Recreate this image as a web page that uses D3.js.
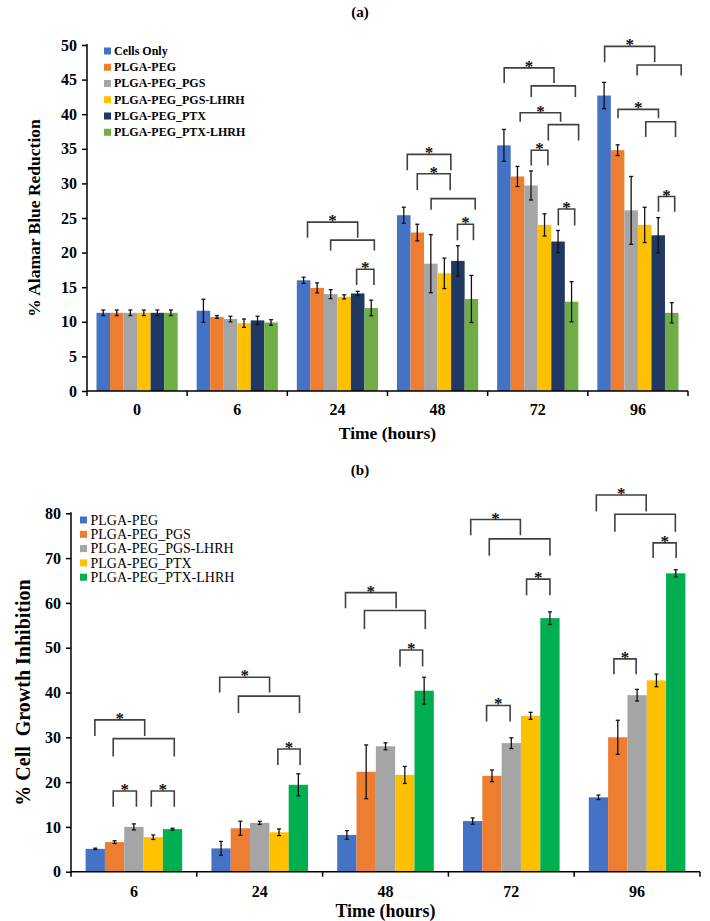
<!DOCTYPE html>
<html><head><meta charset="utf-8">
<script src="https://cdnjs.cloudflare.com/ajax/libs/d3/7.8.5/d3.min.js"></script>
<style>
body{margin:0;background:#fff;}
text{font-family:"Liberation Serif","Times New Roman",serif;}
</style></head>
<body><svg id="c" width="710" height="921"></svg>
<script>
// ---------- Chart (a) data ----------
const timesA = ["0","6","24","48","72","96"];
const seriesA = ["Cells Only","PLGA-PEG","PLGA-PEG_PGS","PLGA-PEG_PGS-LHRH","PLGA-PEG_PTX","PLGA-PEG_PTX-LHRH"];
const colorsA = ["#4472C4","#ED7D31","#A5A5A5","#FFC000","#203864","#70AD47"];
const cellsOnly      = [11.3, 11.6, 16.0, 25.4, 35.5, 42.7];
const plgaPegA       = [11.3, 10.7, 14.9, 22.9, 31.0, 34.8];
const pgsA           = [11.3, 10.4, 14.0, 18.4, 29.7, 26.1];
const pgsLhrhA       = [11.3,  9.8, 13.6, 17.0, 24.0, 24.0];
const ptxA           = [11.3, 10.2, 14.1, 18.8, 21.6, 22.5];
const ptxLhrhA       = [11.3,  9.9, 12.0, 13.3, 12.9, 11.3];
const cellsOnlyErr   = [0.4, 1.66, 0.45, 1.16, 2.3, 1.9];
const plgaPegAErr    = [0.4, 0.2, 0.72, 1.2, 1.45, 0.77];
const pgsAErr        = [0.4, 0.4, 0.65, 4.2, 2.1, 4.9];
const pgsLhrhAErr    = [0.4, 0.6, 0.3, 2.2, 1.6, 2.55];
const ptxAErr        = [0.4, 0.6, 0.3, 2.2, 1.6, 2.55];
const ptxLhrhAErr    = [0.4, 0.4, 1.13, 3.4, 2.9, 1.47];
const yTicksA = [0,5,10,15,20,25,30,35,40,45,50];
// significance brackets: [time index, from bar pos, to bar pos, top value, leg end value, star]
const bracketsA = [
  [2,0.79,4.5,24.4,22.15,1],[2,2.5,5.73,21.8,20.3,0],[2,4.42,5.7,17.6,15.3,1],
  [3,0.76,3.98,34.2,31.9,1],[3,1.5,3.93,31.4,29.0,1],[3,2.52,5.78,27.8,26.2,0],[3,4.47,5.65,24.1,21.8,1],
  [4,0.52,4.2,46.7,44.5,1],[4,2.52,5.78,44.1,42.5,0],[4,1.7,4.69,40.2,38.9,1],[4,3.78,6.02,38.5,36.2,0],[4,2.52,3.75,34.8,32.6,1],[4,4.52,5.73,26.3,23.9,1],
  [5,0.54,4.24,49.8,47.5,1],[5,2.94,6.2,47.1,45.6,0],[5,1.53,4.52,40.7,39.4,1],[5,3.58,5.78,38.9,36.7,0],[5,4.52,5.72,28.1,25.9,1]
];

// ---------- Chart (b) data ----------
const timesB = ["6","24","48","72","96"];
const seriesB = ["PLGA-PEG","PLGA-PEG_PGS","PLGA-PEG_PGS-LHRH","PLGA-PEG_PTX","PLGA-PEG_PTX-LHRH"];
const colorsB = ["#4472C4","#ED7D31","#A5A5A5","#FFC000","#00B050"];
const plgaPegB    = [5.1, 5.2, 8.2, 11.3, 16.6];
const pgsB        = [6.6, 9.7, 22.3, 21.4, 30.0];
const pgsLhrhB    = [10.0, 10.9, 28.0, 28.7, 39.4];
const ptxB        = [7.7, 8.8, 21.6, 34.8, 42.7];
const ptxLhrhB    = [9.5, 19.4, 40.4, 56.6, 66.6];
const plgaPegBErr = [0.15, 1.56, 0.97, 0.7, 0.5];
const pgsBErr     = [0.3, 1.56, 6.0, 1.3, 3.8];
const pgsLhrhBErr = [0.67, 0.35, 0.78, 1.2, 1.3];
const ptxBErr     = [0.5, 0.74, 1.9, 0.78, 1.4];
const ptxLhrhBErr = [0.2, 2.45, 3.0, 1.4, 0.8];
const yTicksB = [0,10,20,30,40,50,60,70,80];
const bracketsB = [
  [0,0.48,3.06,33.9,30.3,1],[0,1.43,4.59,29.7,25.7,0],[0,1.43,2.63,18.0,14.5,1],[0,3.4,4.59,18.0,14.5,1],
  [1,0.43,3.01,43.4,40.0,1],[1,1.4,4.56,39.2,35.4,0],[1,3.44,4.59,27.4,23.8,1],
  [2,0.43,3.05,62.3,58.8,1],[2,1.41,4.56,58.3,54.2,0],[2,3.25,4.42,49.5,45.8,1],
  [3,0.4,2.97,78.6,75.1,1],[3,1.36,4.5,74.3,70.5,0],[3,3.29,4.5,65.3,61.7,1],[3,1.22,2.44,37.1,33.5,1],
  [4,0.39,2.97,84.1,80.4,1],[4,1.35,4.48,79.8,75.9,0],[4,3.33,4.52,73.4,70.0,1],[4,1.3,2.45,47.5,44.1,1]
];

const svg = d3.select("#c");

function drawChart(cfg){
  const g = svg.append("g");
  const x0 = d3.scaleBand().domain(cfg.times).range([cfg.left, cfg.right]).padding(0);
  const inner = d3.scaleBand().domain(cfg.series).range([cfg.pad, x0.bandwidth()-cfg.pad]).padding(0);
  const pos = d3.scaleLinear().domain([0, cfg.series.length]).range(inner.range());
  const y = d3.scaleLinear().domain(cfg.yDomain).range([cfg.bottom, cfg.top]);
  const color = d3.scaleOrdinal().domain(cfg.series).range(cfg.colors);

  const rows = [];
  cfg.series.forEach((s,si)=>cfg.times.forEach((t,ti)=>rows.push({s,t,v:cfg.values[si][ti],e:cfg.errors[si][ti]})));

  g.selectAll("rect.bar").data(rows).join("rect").attr("class","bar")
    .attr("x",d=>x0(d.t)+inner(d.s)).attr("width",inner.bandwidth())
    .attr("y",d=>y(d.v)).attr("height",d=>y(0)-y(d.v)).attr("fill",d=>color(d.s));

  // error bars
  const eb = g.selectAll("g.err").data(rows).join("g").attr("class","err")
    .attr("stroke","#111").attr("stroke-width",1.3);
  const cx = d=>x0(d.t)+inner(d.s)+inner.bandwidth()/2;
  eb.append("line").attr("x1",cx).attr("x2",cx).attr("y1",d=>y(d.v+d.e)).attr("y2",d=>y(d.v-d.e));
  eb.append("line").attr("x1",d=>cx(d)-2).attr("x2",d=>cx(d)+2).attr("y1",d=>y(d.v+d.e)).attr("y2",d=>y(d.v+d.e));
  eb.append("line").attr("x1",d=>cx(d)-2).attr("x2",d=>cx(d)+2).attr("y1",d=>y(d.v-d.e)).attr("y2",d=>y(d.v-d.e));

  // brackets
  const bk = g.selectAll("g.bk").data(cfg.brackets).join("g").attr("class","bk");
  bk.append("path").attr("fill","none").attr("stroke","#404040").attr("stroke-width",1.6)
    .attr("d",b=>{const gx=x0(cfg.times[b[0]]);const xa=gx+pos(b[1]), xb=gx+pos(b[2]);
      return `M${xa},${y(b[4])}V${y(b[3])}H${xb}V${y(b[4])}`;});
  bk.filter(b=>b[5]).append("text").attr("text-anchor","middle").attr("font-weight","bold")
    .attr("font-size",17).attr("fill","#111")
    .attr("x",b=>{const gx=x0(cfg.times[b[0]]);return gx+(pos(b[1])+pos(b[2]))/2;})
    .attr("y",b=>y(b[3])+4).text("*");

  // axes
  const xAxis = g.append("g").attr("transform",`translate(0,${cfg.bottom})`);
  xAxis.append("line").attr("x1",cfg.left).attr("x2",cfg.right).attr("stroke","#000").attr("stroke-width",1.5);
  const bounds = cfg.times.map(t=>x0(t)).concat([cfg.right]);
  xAxis.selectAll("line.tk").data(bounds).join("line").attr("class","tk")
    .attr("x1",d=>d).attr("x2",d=>d).attr("y1",0).attr("y2",5).attr("stroke","#000").attr("stroke-width",1.5);
  xAxis.selectAll("text").data(cfg.times).join("text").attr("text-anchor","middle")
    .attr("font-weight","bold").attr("font-size",cfg.xTickSize)
    .attr("x",d=>x0(d)+x0.bandwidth()/2).attr("y",cfg.xTickY).text(d=>d);

  const yAxis = g.append("g").attr("transform",`translate(${cfg.left},0)`)
    .call(d3.axisLeft(y).tickValues(cfg.yTicks).tickSize(5).tickPadding(5).tickFormat(d3.format("d")));
  yAxis.select(".domain").attr("stroke","#000").attr("stroke-width",1.5).attr("d",`M0,${cfg.bottom}V${cfg.top-1}`);
  yAxis.selectAll(".tick line").attr("stroke","#000").attr("stroke-width",1.5);
  yAxis.selectAll(".tick text").attr("font-family","Liberation Serif").attr("font-weight","bold")
    .attr("font-size",cfg.yTickSize).attr("fill","#000");

  // titles
  svg.append("text").attr("x",cfg.titleX).attr("y",cfg.titleY).attr("text-anchor","middle")
    .attr("font-weight","bold").attr("font-size",15).text(cfg.title);
  svg.append("text").attr("x",(cfg.left+cfg.right)/2).attr("y",cfg.xTitleY).attr("text-anchor","middle")
    .attr("font-weight","bold").attr("font-size",cfg.xTitleSize).text("Time (hours)");
  svg.append("text").attr("transform",`translate(${cfg.yTitleX},${(cfg.top+cfg.bottom)/2}) rotate(-90)`)
    .attr("text-anchor","middle").attr("font-weight","bold").attr("font-size",cfg.yTitleSize)
    .attr("xml:space","preserve").style("white-space","pre").text(cfg.yTitle);

  // legend
  const lg = svg.append("g");
  const li = lg.selectAll("g").data(cfg.series).join("g")
    .attr("transform",(d,i)=>`translate(${cfg.legX},${cfg.legY+i*cfg.legStep})`);
  li.append("rect").attr("x",0).attr("y",-3.5).attr("width",7).attr("height",7).attr("fill",d=>color(d));
  li.append("text").attr("x",cfg.legTextDx).attr("y",cfg.legFont*0.33).attr("font-size",cfg.legFont)
    .attr("font-weight",cfg.legBold?"bold":"normal").attr("fill","#000").text(d=>d);
}

drawChart({
  times:timesA, series:seriesA, colors:colorsA,
  values:[cellsOnly,plgaPegA,pgsA,pgsLhrhA,ptxA,ptxLhrhA],
  errors:[cellsOnlyErr,plgaPegAErr,pgsAErr,pgsLhrhAErr,ptxAErr,ptxLhrhAErr],
  brackets:bracketsA, yTicks:yTicksA, yDomain:[0,50],
  left:87, right:688, top:45, bottom:391, pad:9.5,
  xTickSize:16, xTickY:24, xTitleY:439, xTitleSize:17.5,
  yTickSize:16, yTitle:"% Alamar Blue Reduction", yTitleX:40, yTitleSize:17.5,
  title:"(a)", titleX:360, titleY:17,
  legX:104, legY:51, legStep:16.25, legTextDx:10, legFont:12, legBold:true
});
drawChart({
  times:timesB, series:seriesB, colors:colorsB,
  values:[plgaPegB,pgsB,pgsLhrhB,ptxB,ptxLhrhB],
  errors:[plgaPegBErr,pgsBErr,pgsLhrhBErr,ptxBErr,ptxLhrhBErr],
  brackets:bracketsB, yTicks:yTicksB, yDomain:[0,80],
  left:71, right:700, top:513.3, bottom:871.7, pad:14.6,
  xTickSize:16, xTickY:25, xTitleY:917, xTitleSize:18,
  yTickSize:16, yTitle:"% Cell  Growth Inhibition", yTitleX:30, yTitleSize:20,
  title:"(b)", titleX:360, titleY:475,
  legX:80, legY:520, legStep:14.3, legTextDx:10.5, legFont:14, legBold:false
});
</script></body></html>
